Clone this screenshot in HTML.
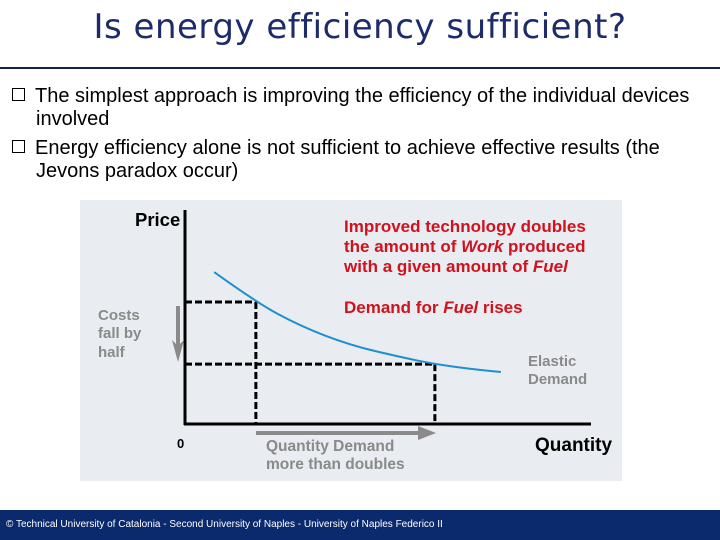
<!DOCTYPE html>
<html><head><meta charset="utf-8"><style>
body{margin:0;width:720px;height:540px;overflow:hidden;background:#fff;position:relative;font-family:"Liberation Sans",Arial,sans-serif}
#title{position:absolute;left:0;top:7px;width:720px;text-align:center;font-family:"DejaVu Sans",sans-serif;font-size:34px;color:#1d2b6b;letter-spacing:0.5px}
#rule{position:absolute;left:0;top:67px;width:720px;height:2px;background:#16214f}
.b{position:absolute;left:12px;font-size:20px;color:#000;line-height:23px;width:708px;white-space:nowrap}
.b .box{display:inline-block;width:11px;height:11px;border:1.5px solid #000;margin-right:10px;vertical-align:1px}
.b .ind{padding-left:24px}
#footer{position:absolute;left:0;top:510px;width:720px;height:30px;background:#0b2a6e;color:#fff;font-size:10px;line-height:30px;padding-left:6px;box-sizing:border-box}
</style></head><body>
<div id="title">Is energy efficiency sufficient?</div>
<div id="rule"></div>
<div class="b" style="top:85px"><span class="box"></span>The simplest approach is improving the efficiency of the individual devices<div class="ind">involved</div></div>
<div class="b" style="top:137px"><span class="box"></span>Energy efficiency alone is not sufficient to achieve effective results (the<div class="ind">Jevons paradox occur)</div></div>
<svg id="chart" width="720" height="540" style="position:absolute;left:0;top:0"></svg>
<div id="footer">© Technical University of Catalonia - Second University of Naples - University of Naples Federico II</div>
<script>
const curveQ=[0.72,1.75,2.84,4.07,5.31,6.17,7.04,7.8];
const curveP=[7.1,5.7,4.58,3.69,3.13,2.8,2.57,2.43];
const markQ=[1.75,6.17];
const markP=[5.7,2.8];
const sx=q=>185+q*40.5, sy=p=>424-p*21.4;
const svg=document.getElementById('chart');
const NS='http://www.w3.org/2000/svg';
function mk(tag,attrs){const e=document.createElementNS(NS,tag);for(const k in attrs)e.setAttribute(k,attrs[k]);svg.appendChild(e);return e;}
const bg=mk('rect',{x:80,y:200,width:542,height:281,fill:'#e9ecf0'});


for(let i=0;i<markQ.length;i++){
 const h=mk('line',{x1:sx(0),y1:sy(markP[i]),x2:sx(markQ[i]),y2:sy(markP[i]),stroke:'#000','stroke-width':3,'stroke-dasharray':'7,3'});
 
 
 const v=mk('line',{x1:sx(markQ[i]),y1:sy(markP[i]),x2:sx(markQ[i]),y2:sy(0),stroke:'#000','stroke-width':3,'stroke-dasharray':'7,3'});
 
 
}
const ya=mk('line',{x1:sx(0),y1:210,x2:sx(0),y2:425,stroke:'#000','stroke-width':3});


const xa=mk('line',{x1:184,y1:sy(0),x2:591,y2:sy(0),stroke:'#000','stroke-width':3});


const pts=curveQ.map((q,i)=>[sx(q),sy(curveP[i])]);
let d='M'+pts[0][0]+','+pts[0][1];
for(let i=1;i<pts.length-1;i++){
 const mx=(pts[i][0]+pts[i+1][0])/2, my=(pts[i][1]+pts[i+1][1])/2;
 d+=' Q'+pts[i][0]+','+pts[i][1]+' '+mx+','+my;
}
d+=' L'+pts[pts.length-1][0]+','+pts[pts.length-1][1];
const c=mk('path',{d:d,fill:'none',stroke:'#1e90d0','stroke-width':2,'stroke-linejoin':'round'});


const da=mk('path',{d:'M176,306 L176,344 L172,340 L178,362 L184,340 L180,344 L180,306 Z',fill:'#8a8a8a'});


const ra=mk('path',{d:'M256,431 L418,431 L418,426 L436,433 L418,440 L418,435 L256,435 Z',fill:'#8a8a8a'});


const texts=[
 ['Price',135,226,'#000',18.5,'y-axis-title'],
 ['Quantity',535,451,'#000',19,'x-axis-title'],
 ['0',177,448,'#000',13,'origin-label'],
 ['Costs',98,320,'#8a8a8a',15,'costs-label-1'],
 ['fall by',98,338,'#8a8a8a',15,'costs-label-2'],
 ['half',98,357,'#8a8a8a',15,'costs-label-3'],
 ['Elastic',528,366,'#8a8a8a',15,'elastic-label-1'],
 ['Demand',528,384,'#8a8a8a',15,'elastic-label-2'],
 ['Quantity Demand',266,451,'#8a8a8a',15.5,'quantity-label-1'],
 ['more than doubles',266,469,'#8a8a8a',15.5,'quantity-label-2'],
];
for(const t of texts){
 const e=mk('text',{x:t[1],y:t[2],fill:t[3],'font-size':t[4],'font-weight':'bold','font-family':'Liberation Sans, Arial, sans-serif'});
 e.textContent=t[0];
 
 
}
const red=[
 ['Improved technology doubles',232],
 ['the amount of <tspan font-style="italic">Work</tspan> produced',252],
 ['with a given amount of <tspan font-style="italic">Fuel</tspan>',272],
 ['Demand for <tspan font-style="italic">Fuel</tspan> rises',313]];
red.forEach((r,i)=>{
 const e=mk('text',{x:344,y:r[1],fill:'#d0121e','font-size':17,'font-weight':'bold','font-family':'Liberation Sans, Arial, sans-serif'});
 e.innerHTML=r[0];
 
 
});
</script>
</body></html>
